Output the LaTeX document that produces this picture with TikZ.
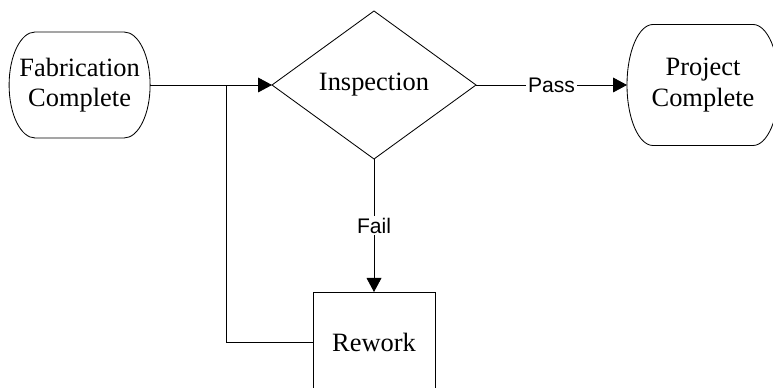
\documentclass[tikz,border=0pt]{standalone}
\usepackage{fontspec}
\setmainfont{Liberation Serif}
\newfontfamily\labelfont{Liberation Sans}
\usetikzlibrary{shapes.geometric,arrows.meta,calc}
\begin{document}
\begin{tikzpicture}[>={Triangle[length=0.35cm,width=0.37cm]},line width=0.6pt,
    every node/.style={font=\fontsize{18.8}{21.8}\selectfont,align=center,outer sep=0pt},
    term/.style={minimum width=#1,minimum height=2.8cm,inner sep=0pt},
    decision/.style={diamond,draw,aspect=1.378,minimum width=5.1cm,minimum height=3.7cm,inner sep=0pt},
    box/.style={rectangle,draw,minimum width=3.05cm,minimum height=2.5cm},
    lbl/.style={font=\labelfont\fontsize{15}{17}\selectfont,fill=white,inner sep=1.5pt}]
            \useasboundingbox (0,0) rectangle (19.325,9.675);
            \node[term=3.525cm,minimum height=2.65cm] (F) at(1.99,7.55) {Fabrication\\Complete};
            \node[decision] (I) at(9.35,7.55) {Inspection};
            \node[term=3.8cm,minimum height=3.025cm] (P) at(17.575,7.55) {Project\\Complete};
            \node[box] (R) at(9.35,1.125) {Rework};
            \coordinate (J) at(5.65,7.55);
            % terminator outlines
            \foreach \n in {F,P}
              \draw ([xshift=0.65cm]\n.north west) -- ([xshift=-0.65cm]\n.north east)
                .. controls ([xshift=-0.291cm]\n.north east) and ($(\n.east)!0.552!(\n.north east)$) .. (\n.east)
                .. controls ($(\n.east)!0.552!(\n.south east)$) and ([xshift=-0.291cm]\n.south east) .. ([xshift=-0.65cm]\n.south east)
                -- ([xshift=0.65cm]\n.south west)
                .. controls ([xshift=0.291cm]\n.south west) and ($(\n.west)!0.552!(\n.south west)$) .. (\n.west)
                .. controls ($(\n.west)!0.552!(\n.north west)$) and ([xshift=0.291cm]\n.north west) .. cycle;
            \draw[->] (F) -- (I);
            \draw[->] (I) -- node[lbl,midway]{Pass} (P);
            \draw[->] (I) -- node[lbl,midway]{Fail} (R);
            \draw[-] (R.west) -| (J);
        \end{tikzpicture}
\end{document}
